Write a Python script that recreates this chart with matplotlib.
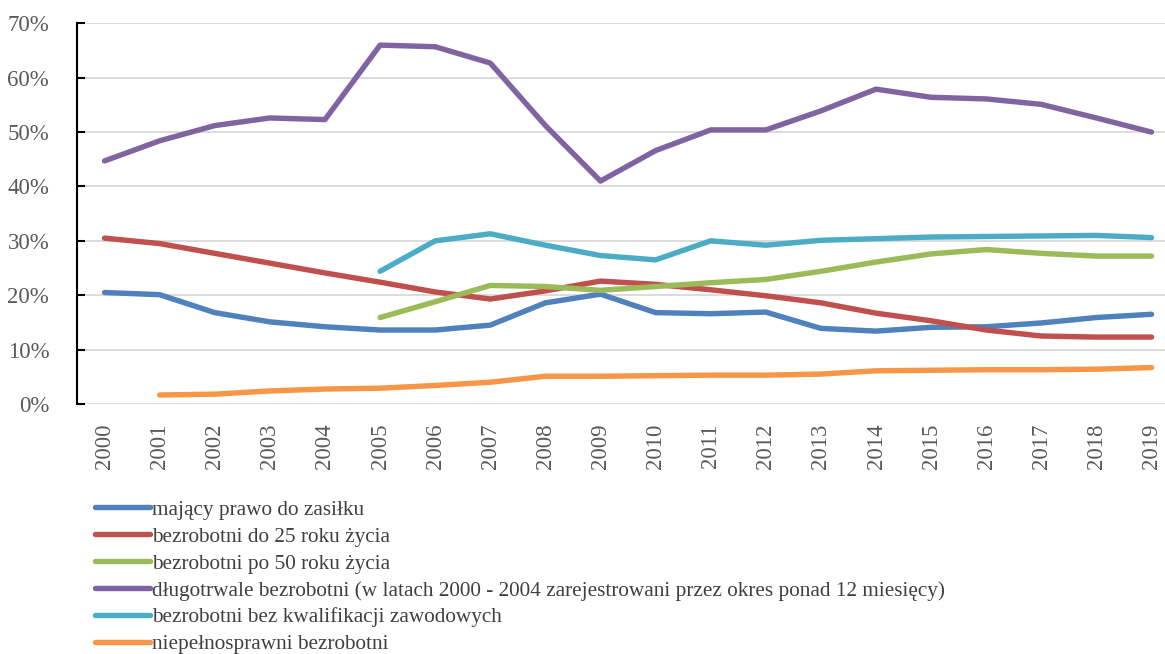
import matplotlib
matplotlib.use("Agg")
import matplotlib.pyplot as plt
import numpy as np

years = [str(y) for y in range(2000, 2020)]

zasilek = [20.5, 20.1, 16.8, 15.1, 14.2, 13.6, 13.6, 14.5, 18.6, 20.2,
           16.8, 16.6, 16.9, 13.9, 13.4, 14.1, 14.2, 14.9, 15.9, 16.5]
do25 = [30.5, 29.5, 27.7, 25.9, 24.1, 22.4, 20.6, 19.3, 20.8, 22.6,
        22.0, 21.0, 19.9, 18.6, 16.7, 15.3, 13.6, 12.5, 12.3, 12.3]
po50 = [None, None, None, None, None, 15.9, 18.8, 21.8, 21.6, 20.9,
        21.6, 22.3, 22.9, 24.4, 26.1, 27.6, 28.4, 27.7, 27.2, 27.2]
dlugotrwale = [44.7, 48.4, 51.2, 52.6, 52.3, 66.0, 65.7, 62.7, 51.2, 41.0,
               46.6, 50.4, 50.4, 53.9, 57.9, 56.4, 56.1, 55.1, 52.6, 50.0]
bez_kwalifikacji = [None, None, None, None, None, 24.4, 30.0, 31.3, 29.2, 27.3,
                    26.5, 30.0, 29.2, 30.1, 30.4, 30.7, 30.8, 30.9, 31.0, 30.6]
niepelnosprawni = [None, 1.65, 1.8, 2.4, 2.75, 2.9, 3.4, 4.0, 5.1, 5.1,
                   5.2, 5.3, 5.3, 5.5, 6.1, 6.2, 6.3, 6.3, 6.4, 6.7]

labels = [
    "mający prawo do zasiłku",
    "bezrobotni do 25 roku życia",
    "bezrobotni po 50 roku życia",
    "długotrwale bezrobotni (w latach 2000 - 2004 zarejestrowani przez okres ponad 12 miesięcy)",
    "bezrobotni bez kwalifikacji zawodowych",
    "niepełnosprawni bezrobotni",
]
colors = ["#4F81BD", "#C0504D", "#9BBB59", "#8064A2", "#4BACC6", "#F79646"]
series = [zasilek, do25, po50, dlugotrwale, bez_kwalifikacji, niepelnosprawni]

plt.rcParams["font.family"] = ["Liberation Serif", "DejaVu Serif"]

fig = plt.figure(figsize=(11.65, 6.54), dpi=100)
ax = fig.add_axes([0.0661, 0.3823, 0.946, 0.582])

x = np.arange(len(years))
handles = []
for vals, col, lab in zip(series, colors, labels):
    y = np.array([np.nan if v is None else v / 100 for v in vals])
    h, = ax.plot(x, y, color=col, lw=3.9, solid_capstyle="round",
                 solid_joinstyle="round", label=lab, zorder=3)
    handles.append(h)

ax.set_xlim(-0.5, len(years) - 0.5)
ax.set_ylim(0, 0.70)
ax.set_yticks(np.arange(0, 0.71, 0.10))
ax.set_yticklabels([f"{int(round(t * 100))}%" for t in np.arange(0, 0.71, 0.10)])
ax.set_xticks(x)
ax.set_xticklabels(years, rotation=90)

ax.grid(axis="y", color="#D9D9D9", lw=1.3, zorder=0)
ax.grid(axis="x", visible=False)
for s in ["top", "right", "bottom"]:
    ax.spines[s].set_visible(False)
ax.spines["left"].set_color("black")
ax.spines["left"].set_linewidth(1.5)

ax.tick_params(axis="y", direction="in", length=6, width=1.5, color="black",
               labelsize=16.5, labelcolor="#595959", pad=20)
ax.tick_params(axis="x", length=0, labelsize=16.5, labelcolor="#595959", pad=14)

fig.legend(handles=handles, labels=labels, loc="upper left",
           bbox_to_anchor=(0.0815, 0.2355), frameon=False, fontsize=15.3,
           labelcolor="#404040", handlelength=2.6, handletextpad=0.1,
           labelspacing=0.33, borderaxespad=0, borderpad=0)

fig.savefig("out.png", dpi=100)
